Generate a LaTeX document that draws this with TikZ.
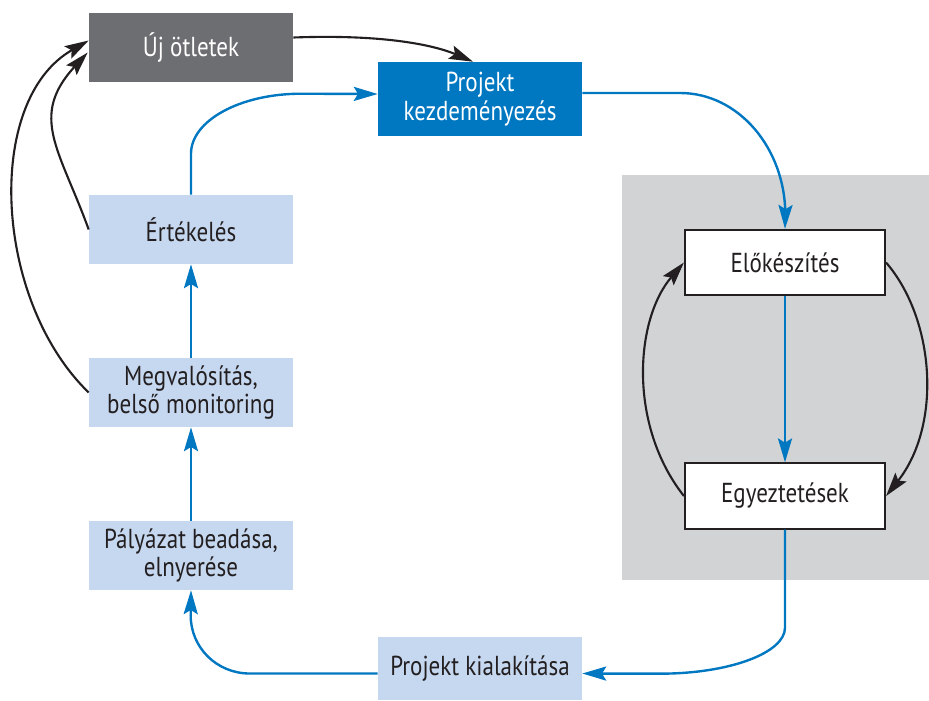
\documentclass[tikz,border=0pt]{standalone}
\usepackage{fontspec}
\setmainfont{PT Sans}[FakeStretch=0.84]
\usepackage{xcolor}
\usepackage{tikz}
\usetikzlibrary{arrows.meta,calc}
\definecolor{ideagray}{RGB}{109,110,113}
\definecolor{mainblue}{RGB}{0,119,193}
\definecolor{stepblue}{RGB}{198,216,240}
\definecolor{panelgray}{RGB}{209,211,213}
\definecolor{ink}{RGB}{35,31,32}

\begin{document}
\begin{tikzpicture}[x=0.025cm, y=0.025cm,
  box/.style={align=center, inner sep=0pt, minimum width=5.1cm, minimum height=1.725cm,
    font=\fontsize{19.5}{20.5}\selectfont, text=ink},
  idea/.style={box, fill=ideagray, text=white},
  start/.style={box, fill=mainblue, text=white, minimum height=1.85cm},
  phase/.style={box, fill=stepblue},
  prep/.style={box, fill=white, draw=ink, line width=1.5pt, minimum width=5.0cm, minimum height=1.63cm},
  flow/.style={-{Stealth[length=17pt, width=10pt, inset=3pt]}, line width=1.7pt, draw=mainblue},
  back/.style={-{Stealth[length=17pt, width=10pt, inset=3pt]}, line width=1.5pt, draw=ink}
]
\useasboundingbox (0,0) rectangle (929,-700);

% Preparation panel.
\fill[panelgray] (622,-175) rectangle (929,-580);

% Boxes.
\node[idea] (ujo) at (191,-47.5) {Új ötletek};
\node[start] (kezd) at (480,-99) {Projekt\\kezdeményezés};
\node[prep] (elo) at (785,-262.5) {Előkészítés};
\node[prep] (egy) at (785,-496) {Egyeztetések};
\node[phase] (kia) at (480,-668.5) [minimum height=1.575cm] {Projekt kialakítása};
\node[phase] (pal) at (191,-555.5) {Pályázat beadása,\\elnyerése};
\node[phase] (meg) at (191,-392.5) {Megvalósítás,\\belső monitoring};
\node[phase] (ert) at (191,-229.5) {Értékelés};

% Main cycle.
\draw[flow] ($(kezd.east)+(0,6)$) -- ++(98,0) .. controls +(58,0) and +(0,67) .. ++(105,-122) -- (elo.north);
\draw[flow] (elo) -- (egy);
\draw[flow] (egy.south) -- ++(0,-98) .. controls +(0,-25) and +(70,0) .. ++(-125,-46) -- ($(kia.east)+(0,-5)$);
\draw[flow] ($(kia.west)+(0,-5)$) -- ++(-128,0) .. controls +(-33,0) and +(0,-32) .. ++(-59,58) -- (pal.south);
\draw[flow] (pal) -- (meg);
\draw[flow] (meg) -- (ert);
\draw[flow] (ert.north) -- ++(0,41) .. controls +(0,33) and +(-61,0) .. ++(110,60) -- ($(kezd.west)+(0,5)$);

% Feedback loops.
\draw[back] ($(ujo.east)+(0,10)$) .. controls +(107,4) and +(-28,12) .. ($(kezd.north)+(-7,0)$);
\draw[back] (ert.west) .. controls +(-29,80) and +(-59,-64) .. ($(ujo.west)+(-1,-5)$);
\draw[back] (meg.west) .. controls +(-95,92) and +(-105,-60) .. ($(ujo.west)+(0,7)$);
\draw[back] (egy.west) .. controls +(-56,71) and +(-49,-57) .. (elo.west);
\draw[back] (elo.east) .. controls +(49,-57) and +(56,71) .. (egy.east);

\end{tikzpicture}
\end{document}
